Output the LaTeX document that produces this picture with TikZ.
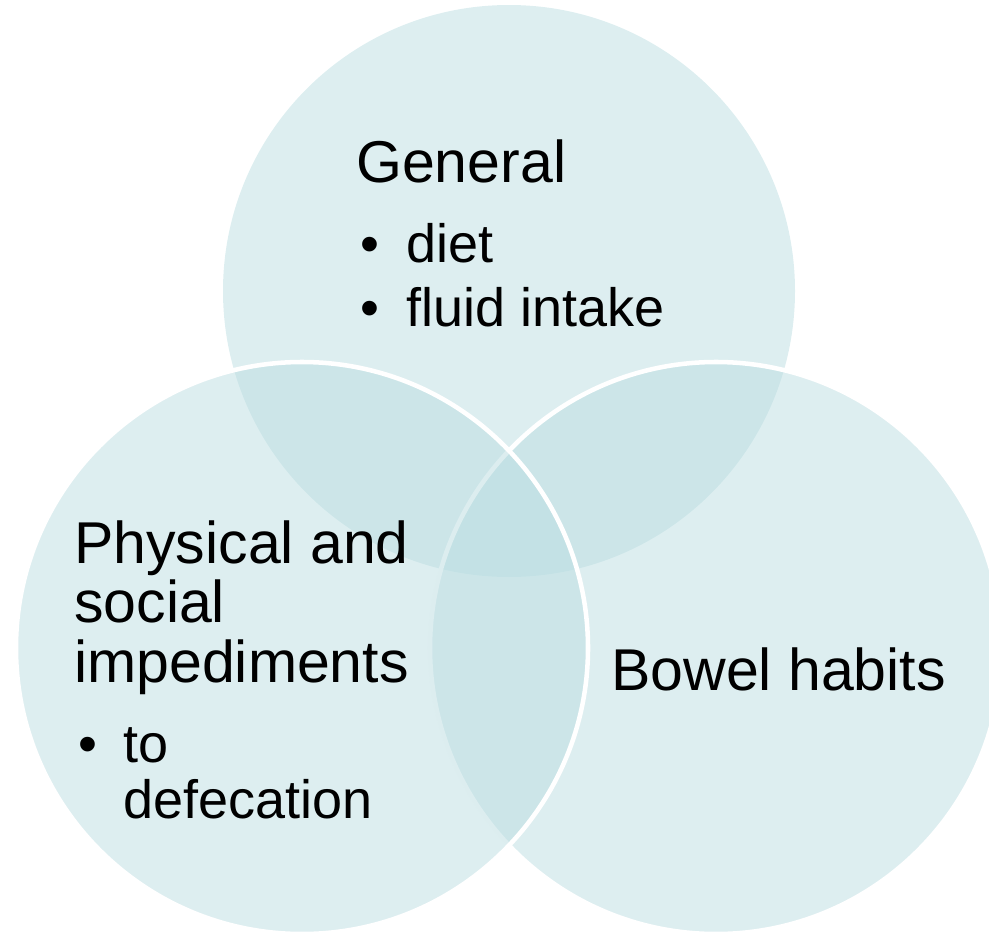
\documentclass[tikz,border=0pt]{standalone}
\usepackage{fontspec}
\setmainfont{Liberation Sans}
\definecolor{vennfill}{RGB}{187,221,225}
\tikzset{
  venn/.style={fill=vennfill, fill opacity=0.5},
  vennedge/.style={venn, draw=white, line width=3.4pt},
  headtext/.style={inner sep=0pt, anchor=base west, font=\fontsize{44.25pt}{46pt}\selectfont},
  itemtext/.style={inner sep=0pt, anchor=base west, font=\fontsize{40.5pt}{42pt}\selectfont},
}
\begin{document}
\begin{tikzpicture}[x=0.75pt, y=-0.75pt]
  \clip (0,0) rectangle (989,935);
  % three overlapping circles
  \coordinate (ctop) at (509,291);
  \coordinate (cright) at (716,648);
  \coordinate (cleft) at (302,648);
  \path[venn] (ctop) circle[radius=286];
  \path[vennedge] (cright) circle[radius=286];
  \path[vennedge] (cleft) circle[radius=286];

  % top circle text
  \node[headtext] (general) at (356,182) {General};
  \node[itemtext] (b1) at (360,262) {•};
  \node[itemtext] (diet) at (406,262) {diet};
  \node[itemtext] (b2) at (360,326) {•};
  \node[itemtext] (fluid) at (406,326) {fluid intake};

  % left circle text
  \node[headtext] (phys1) at (74,563) {Physical and};
  \node[headtext] (phys2) at (74,622) {social};
  \node[headtext] (phys3) at (74,682) {impediments};
  \node[itemtext] (b3) at (78,762) {•};
  \node[itemtext] (to) at (123,762) {to};
  \node[itemtext] (defec) at (123,818) {defecation};

  % right circle text
  \node[headtext] (bowel) at (611,690) {Bowel habits};
\end{tikzpicture}
\end{document}
